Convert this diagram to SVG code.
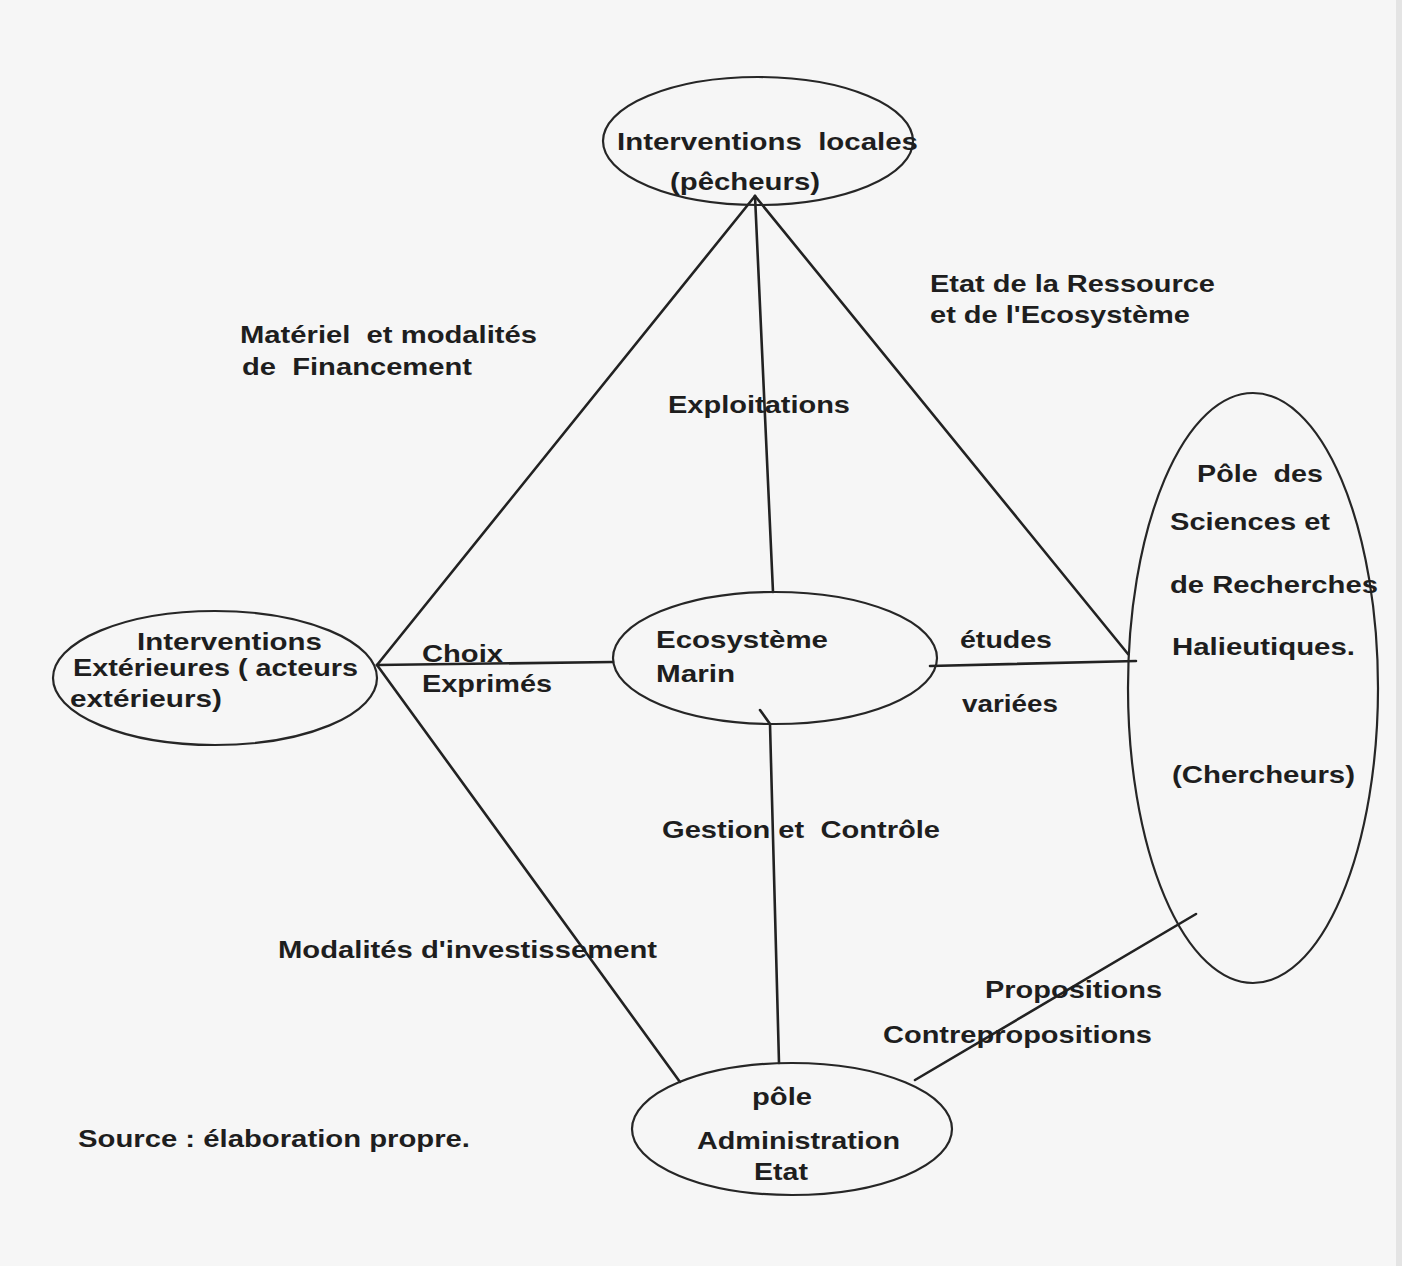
<svg xmlns="http://www.w3.org/2000/svg" width="1402" height="1266" viewBox="0 0 1402 1266">
<style>
.bg{fill:#f6f6f6}
.node ellipse{fill:none;stroke:#262626;stroke-width:2.2}
.conn line,.conn path{stroke:#222;stroke-width:2.6;fill:none;stroke-linecap:round}
text{font-family:"Liberation Sans",Arial,sans-serif;font-weight:bold;font-size:24px;fill:#1e1e1e;white-space:pre}
</style>
<rect class="bg" x="0" y="0" width="1402" height="1266"/>
<rect x="1396" y="0" width="6" height="1266" fill="#e4e4e4"/>
<g class="conn" id="connectors">
<line x1="755" y1="196" x2="377" y2="665"/>
<line x1="755" y1="196" x2="1128" y2="654"/>
<line x1="755" y1="196" x2="773" y2="592"/>
<line x1="377" y1="665" x2="613" y2="662"/>
<line x1="377" y1="665" x2="680" y2="1082"/>
<line x1="930" y1="666" x2="1136" y2="661"/>
<path d="M760 710 L770 724 L779 1063"/>
<line x1="915" y1="1080" x2="1196" y2="914"/>
</g>
<g class="node" id="n-locales">
<ellipse cx="758" cy="141" rx="155" ry="64"/>
<text x="617" y="150" textLength="301" lengthAdjust="spacingAndGlyphs">Interventions  locales</text>
<text x="670" y="190" textLength="150" lengthAdjust="spacingAndGlyphs">(pêcheurs)</text>
</g>
<g class="node" id="n-exterieures">
<ellipse cx="215" cy="678" rx="162" ry="67"/>
<text x="137" y="650" textLength="185" lengthAdjust="spacingAndGlyphs">Interventions</text>
<text x="73" y="676" textLength="285" lengthAdjust="spacingAndGlyphs">Extérieures ( acteurs</text>
<text x="70" y="707" textLength="152" lengthAdjust="spacingAndGlyphs">extérieurs)</text>
</g>
<g class="node" id="n-ecosysteme">
<ellipse cx="775" cy="658" rx="162" ry="66"/>
<text x="656" y="648" textLength="172" lengthAdjust="spacingAndGlyphs">Ecosystème</text>
<text x="656" y="682" textLength="79" lengthAdjust="spacingAndGlyphs">Marin</text>
</g>
<g class="node" id="n-sciences">
<ellipse cx="1253" cy="688" rx="125" ry="295"/>
<text x="1197" y="482" textLength="126" lengthAdjust="spacingAndGlyphs">Pôle  des</text>
<text x="1170" y="530" textLength="160" lengthAdjust="spacingAndGlyphs">Sciences et</text>
<text x="1170" y="593" textLength="208" lengthAdjust="spacingAndGlyphs">de Recherches</text>
<text x="1172" y="655" textLength="183" lengthAdjust="spacingAndGlyphs">Halieutiques.</text>
<text x="1172" y="783" textLength="183" lengthAdjust="spacingAndGlyphs">(Chercheurs)</text>
</g>
<g class="node" id="n-etat">
<ellipse cx="792" cy="1129" rx="160" ry="66"/>
<text x="752" y="1105" textLength="60" lengthAdjust="spacingAndGlyphs">pôle</text>
<text x="697" y="1149" textLength="203" lengthAdjust="spacingAndGlyphs">Administration</text>
<text x="754" y="1180" textLength="54" lengthAdjust="spacingAndGlyphs">Etat</text>
</g>
<g id="labels">
<text x="930" y="292" textLength="285" lengthAdjust="spacingAndGlyphs">Etat de la Ressource</text>
<text x="930" y="323" textLength="260" lengthAdjust="spacingAndGlyphs">et de l'Ecosystème</text>
<text x="240" y="343" textLength="297" lengthAdjust="spacingAndGlyphs">Matériel  et modalités</text>
<text x="242" y="375" textLength="230" lengthAdjust="spacingAndGlyphs">de  Financement</text>
<text x="668" y="413" textLength="182" lengthAdjust="spacingAndGlyphs">Exploitations</text>
<text x="422" y="662" textLength="81" lengthAdjust="spacingAndGlyphs">Choix</text>
<text x="422" y="692" textLength="130" lengthAdjust="spacingAndGlyphs">Exprimés</text>
<text x="960" y="648" textLength="92" lengthAdjust="spacingAndGlyphs">études</text>
<text x="962" y="712" textLength="96" lengthAdjust="spacingAndGlyphs">variées</text>
<text x="662" y="838" textLength="278" lengthAdjust="spacingAndGlyphs">Gestion et  Contrôle</text>
<text x="278" y="958" textLength="379" lengthAdjust="spacingAndGlyphs">Modalités d'investissement</text>
<text x="985" y="998" textLength="177" lengthAdjust="spacingAndGlyphs">Propositions</text>
<text x="883" y="1043" textLength="269" lengthAdjust="spacingAndGlyphs">Contrepropositions</text>
<text x="78" y="1147" textLength="392" lengthAdjust="spacingAndGlyphs">Source : élaboration propre.</text>
</g>
</svg>
